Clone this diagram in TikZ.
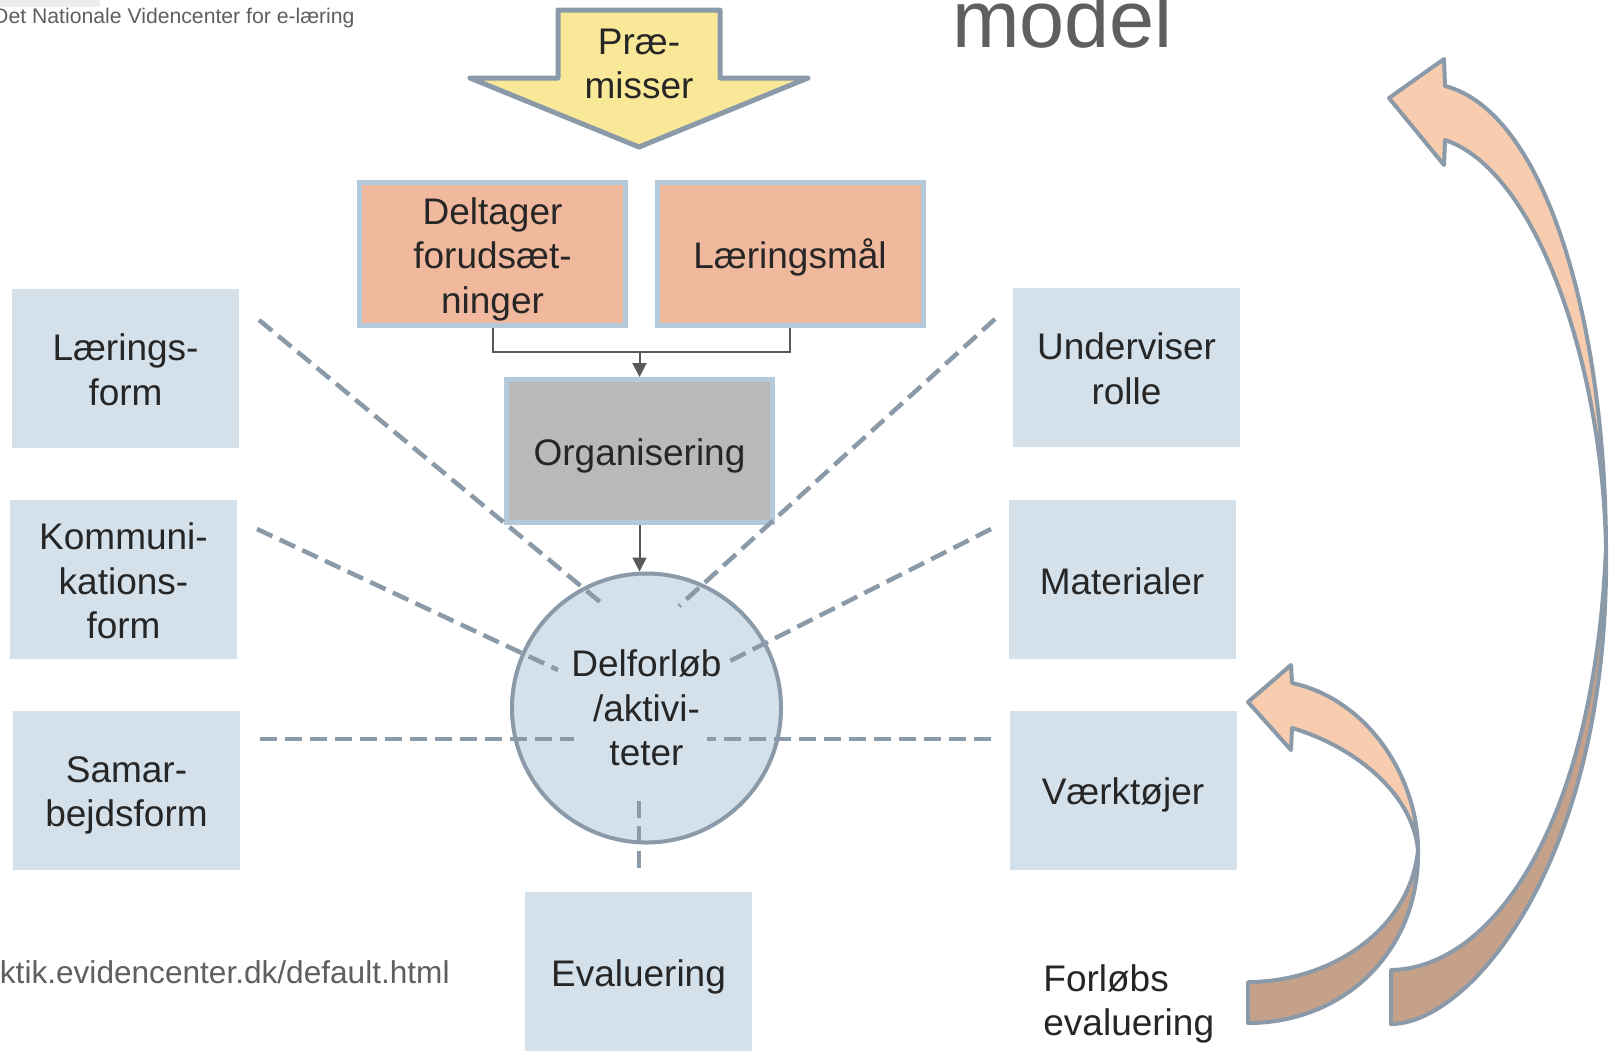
\documentclass[tikz,border=0pt]{standalone}
\usepackage{fontspec}
\setmainfont{Liberation Sans}
\usetikzlibrary{arrows.meta}
\definecolor{boxblue}{HTML}{D4E0EA}
\definecolor{bordblue}{HTML}{B4CADB}
\definecolor{salmon}{HTML}{F0B89D}
\definecolor{orggray}{HTML}{B9B9B9}
\definecolor{premyellow}{HTML}{F9E897}
\definecolor{dashgray}{HTML}{8A9AA8}
\definecolor{conngray}{HTML}{595959}
\definecolor{txt}{HTML}{262626}
\definecolor{softtxt}{HTML}{5F5F5F}
\definecolor{peach}{HTML}{F8CCAE}
\definecolor{ribbonbrown}{HTML}{C5A18A}
\definecolor{stripgray}{HTML}{ECECEC}
\newcommand\Tx{\rule{0pt}{18.5pt}}
\newcommand\Bx{\rule[-3.9pt]{0pt}{3.9pt}}
\tikzset{
  plaintext/.style={font={\fontsize{18.5}{22.2}\selectfont}, text=txt, align=center},
  boxtext/.style={plaintext},
  lbox/.style={boxtext, rectangle, fill=boxblue, minimum width=113.5pt, minimum height=79.5pt, inner sep=0pt},
  obox/.style={boxtext, rectangle, draw=bordblue, line width=2.5pt, fill=salmon, minimum width=133pt, minimum height=71.5pt, inner sep=0pt},
  gbox/.style={obox, fill=orggray},
  conn/.style={draw=conngray, line width=1pt},
  tipped/.style={conn, -{Triangle[width=7pt,length=7pt]}},
  dashline/.style={draw=dashgray, line width=2.25pt, dash pattern=on 8.5pt off 4pt},
  ribbon/.style={draw=dashgray, line width=2pt, line join=round},
}
\begin{document}
\begin{tikzpicture}[x=0.5pt,y=-0.5pt]
\useasboundingbox[fill=white] (0,0) rectangle (1609,1051);
\fill[stripgray] (0,0) rectangle (100,7);

% header texts
\node[anchor=base east, inner sep=0pt, text=softtxt, font={\fontsize{10.6}{12.7}\selectfont}] (hdr) at (355,23) {Det Nationale Videncenter for e-læring};
\node[anchor=base west, inner sep=0pt, text=softtxt, font={\fontsize{40.5}{48}\selectfont}] (model) at (952,47) {model};
\node[anchor=base east, inner sep=0pt, text=softtxt, font={\fontsize{15.8}{19}\selectfont}] (url) at (450,983) {ktik.evidencenter.dk/default.html};

% Premisser arrow
\draw[line width=2.5pt, draw=dashgray, fill=premyellow, line join=round]
  (558,10) -- (720,10) -- (720,78) -- (808,78) -- (639,147) -- (470,78) -- (558,78) -- cycle;
\node[boxtext] (prem) at (639,62) {\Tx Præ-\\misser\Bx};

% top boxes
\node[obox] (delt) at (492.5,254) {\Tx Deltager\\forudsæt-\\ninger\Bx};
\node[obox] (laer) at (790,254) {\Tx Læringsmål\Bx};
\node[gbox] (org) at (639.5,451) {\Tx Organisering\Bx};

% side boxes
\node[lbox] (lform) at (125.5,368.5) {\Tx Lærings-\\form\Bx};
\node[lbox] (kform) at (123.5,579.5) {\Tx Kommuni-\\kations-\\form\Bx};
\node[lbox] (sform) at (126.5,790) {\Tx Samar-\\bejdsform\Bx};
\node[lbox] (urolle) at (1126.5,367.5) {\Tx Underviser\\rolle\Bx};
\node[lbox] (mat) at (1122,579.5) {\Tx Materialer\Bx};
\node[lbox] (vaerk) at (1123,790) {\Tx Værktøjer\Bx};
\node[lbox] (eval) at (638.5,971.5) {\Tx Evaluering\Bx};

% central circle
\node[plaintext, circle, fill=boxblue, draw=dashgray, line width=2pt, minimum size=134.5pt, inner sep=0pt] (circ) at (646.5,708) {Delforløb\\/aktivi-\\teter};

% connectors
\coordinate (j) at (639.5,352);
\draw[conn] (delt.south) |- (j) -| (laer.south);
\draw[tipped] (j) -- (org.north);
\draw[tipped] (org.south) -- (org.south |- circ.north);

% dashed spokes
\coordinate (a1) at (259,320);  \coordinate (b1) at (605,606);
\coordinate (a2) at (257,529);  \coordinate (b2) at (558,670);
\coordinate (a3) at (260,739);  \coordinate (b3) at (574,739);
\coordinate (a4) at (995,319);  \coordinate (b4) at (679,606);
\coordinate (a5) at (991,529);  \coordinate (b5) at (724,664);
\coordinate (a6) at (991,739);  \coordinate (b6) at (707,739);
\coordinate (a7) at (639,801);  \coordinate (b7) at (639,873);
\foreach \i in {1,...,7} { \draw[dashline] (a\i) -- (b\i); }

% big curved arrow
\draw[ribbon, fill=peach]
  (1445,86) .. controls (1545,112) and (1605,320) .. (1606,547)
  .. controls (1602,360) and (1535,170) .. (1445,140)
  -- (1444,165) -- (1389,98) -- (1444,59) -- cycle;
\draw[ribbon, fill=ribbonbrown]
  (1606,547) .. controls (1610,860) and (1470,1024) .. (1391,1024)
  -- (1391,970) .. controls (1495,968) and (1595,820) .. (1606,547) -- cycle;

% small curved arrow
\draw[ribbon, fill=peach]
  (1292,683) .. controls (1370,700) and (1418,780) .. (1418,850)
  .. controls (1412,790) and (1350,745) .. (1292,728)
  -- (1291,750) -- (1248,702) -- (1291,665) -- cycle;
\draw[ribbon, fill=ribbonbrown]
  (1418,850) .. controls (1420,950) and (1345,1023) .. (1248,1023)
  -- (1248,982) .. controls (1330,982) and (1410,930) .. (1418,850) -- cycle;

\node[plaintext, align=left, anchor=west, inner sep=0pt] (forl) at (1043,1004) {Forløbs\\evaluering};
\end{tikzpicture}
\end{document}
